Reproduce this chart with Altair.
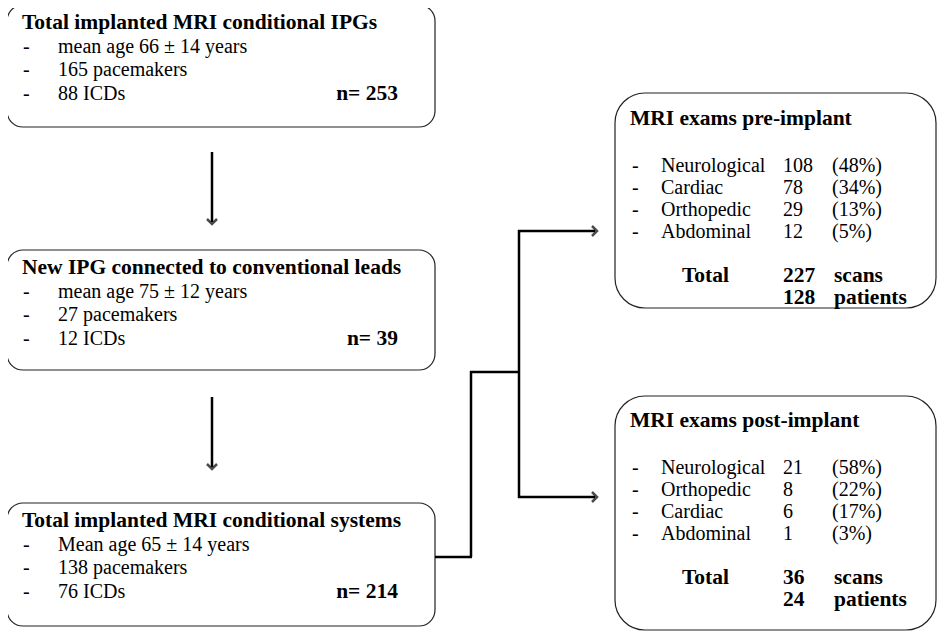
import altair as alt
import pandas as pd

# ---------------- content ----------------
box1_title = "Total implanted MRI conditional IPGs"
box1_items = ["mean age 66 ± 14 years", "165 pacemakers", "88 ICDs"]
box1_n = "n= 253"

box2_title = "New IPG connected to conventional leads"
box2_items = ["mean age 75 ± 12 years", "27 pacemakers", "12 ICDs"]
box2_n = "n= 39"

box3_title = "Total implanted MRI conditional systems"
box3_items = ["Mean age 65 ± 14 years", "138 pacemakers", "76 ICDs"]
box3_n = "n= 214"

pre_title = "MRI exams pre-implant"
pre_categories = ["Neurological", "Cardiac", "Orthopedic", "Abdominal"]
pre_counts = [108, 78, 29, 12]
pre_pcts = ["(48%)", "(34%)", "(13%)", "(5%)"]
pre_scans = 227
pre_patients = 128

post_title = "MRI exams post-implant"
post_categories = ["Neurological", "Orthopedic", "Cardiac", "Abdominal"]
post_counts = [21, 8, 6, 1]
post_pcts = ["(58%)", "(22%)", "(17%)", "(3%)"]
post_scans = 36
post_patients = 24

# ---------------- layout (pixel space of the page) ----------------
W, H = 929, 623
X0, Y0 = 8, 8
FONT = "Liberation Serif"
FS_NORM = 20
FS_BOLD = 21.5

boxes = pd.DataFrame([
    dict(x=7, x2=435, y=5, y2=127),
    dict(x=7, x2=435, y=250, y2=370),
    dict(x=7, x2=435, y=503, y2=626),
    dict(x=615, x2=936, y=93, y2=308),
    dict(x=615, x2=936, y=396, y2=630),
])

left_tops = [23, 268, 521]
left_specs = [(box1_title, box1_items, box1_n),
              (box2_title, box2_items, box2_n),
              (box3_title, box3_items, box3_n)]

bold_rows, norm_rows, right_rows = [], [], []
for top, (title, items, n) in zip(left_tops, left_specs):
    bold_rows.append(dict(x=22, y=top, t=title))
    ys = [top + 24, top + 47, top + 71]
    for yy, it in zip(ys, items):
        norm_rows.append(dict(x=23, y=yy, t="-"))
        norm_rows.append(dict(x=58, y=yy, t=it))
    right_rows.append(dict(x=398, y=ys[-1], t=n))

right_specs = [(119, pre_title, pre_categories, pre_counts, pre_pcts, pre_scans, pre_patients),
               (421, post_title, post_categories, post_counts, post_pcts, post_scans, post_patients)]
for top, title, cats, cnts, pcts, scans, pats in right_specs:
    bold_rows.append(dict(x=630, y=top, t=title))
    ys = [top + 47, top + 69, top + 91, top + 113]
    for yy, c, n, p in zip(ys, cats, cnts, pcts):
        norm_rows.append(dict(x=632, y=yy, t="-"))
        norm_rows.append(dict(x=661, y=yy, t=c))
        norm_rows.append(dict(x=783, y=yy, t=str(n)))
        norm_rows.append(dict(x=832, y=yy, t=p))
    bold_rows.append(dict(x=682, y=top + 157, t="Total"))
    bold_rows.append(dict(x=783, y=top + 157, t=str(scans)))
    bold_rows.append(dict(x=834, y=top + 157, t="scans"))
    bold_rows.append(dict(x=783, y=top + 179, t=str(pats)))
    bold_rows.append(dict(x=834, y=top + 179, t="patients"))

segments = pd.DataFrame([
    dict(x=212, y=152, x2=212, y2=222),
    dict(x=212, y=397, x2=212, y2=467),
    dict(x=435, y=557, x2=472, y2=557),
    dict(x=471, y=557, x2=471, y2=371),
    dict(x=470, y=372, x2=520, y2=372),
    dict(x=519, y=230, x2=519, y2=498),
    dict(x=518, y=231, x2=595, y2=231),
    dict(x=518, y=497, x2=595, y2=497),
])

heads = pd.DataFrame([
    dict(x=597, y=231, a=0),
    dict(x=597, y=497, a=0),
    dict(x=212, y=224, a=90),
    dict(x=212, y=469, a=90),
])

xs = alt.Scale(domain=[X0, X0 + W], range=[0, W])
ys_ = alt.Scale(domain=[Y0, Y0 + H], range=[0, H])
X = lambda f: alt.X(f, type="quantitative", scale=xs, axis=None)
Y = lambda f: alt.Y(f, type="quantitative", scale=ys_, axis=None)

small_box_layer = alt.Chart(boxes.iloc[:3]).mark_rect(
    fill="white", stroke="#222", strokeWidth=1.2, cornerRadius=16
).encode(x=X("x"), x2="x2", y=Y("y"), y2="y2")
big_box_layer = alt.Chart(boxes.iloc[3:]).mark_rect(
    fill="white", stroke="#222", strokeWidth=1.2, cornerRadius=30
).encode(x=X("x"), x2="x2", y=Y("y"), y2="y2")

seg_layer = alt.Chart(segments).mark_rule(
    color="black", strokeWidth=2.5
).encode(x=X("x"), x2="x2", y=Y("y"), y2="y2")

head_layer = alt.Chart(heads).mark_point(
    shape="M-1,-1L0,0L-1,1", filled=False, stroke="black", strokeWidth=2.5,
    size=100, strokeJoin="miter"
).encode(x=X("x"), y=Y("y"), angle=alt.Angle("a:Q", scale=None))

norm_layer = alt.Chart(pd.DataFrame(norm_rows)).mark_text(
    font=FONT, fontSize=FS_NORM, align="left", baseline="middle", color="black"
).encode(x=X("x"), y=Y("y"), text="t:N")

bold_layer = alt.Chart(pd.DataFrame(bold_rows)).mark_text(
    font=FONT, fontSize=FS_BOLD, fontWeight="bold", align="left", baseline="middle", color="black"
).encode(x=X("x"), y=Y("y"), text="t:N")

right_layer = alt.Chart(pd.DataFrame(right_rows)).mark_text(
    font=FONT, fontSize=FS_BOLD, fontWeight="bold", align="right", baseline="middle", color="black"
).encode(x=X("x"), y=Y("y"), text="t:N")

chart = alt.layer(
    small_box_layer, big_box_layer, seg_layer, head_layer, norm_layer, bold_layer, right_layer
).properties(
    width=W, height=H, padding=0, autosize="none", background="white"
).configure_view(stroke=None)

chart.save("out.html", embed_options={"renderer": "svg", "actions": False})
